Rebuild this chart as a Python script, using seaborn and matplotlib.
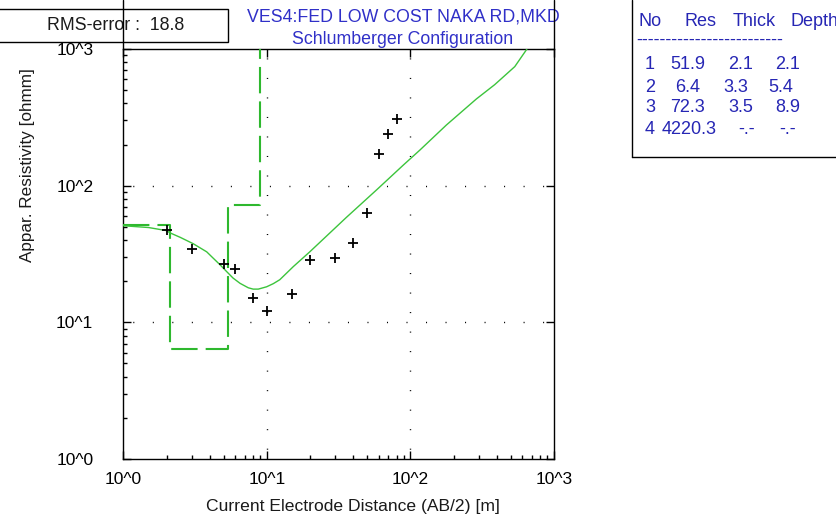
import numpy as np
import pandas as pd
import matplotlib
matplotlib.use("Agg")
import matplotlib.pyplot as plt
from matplotlib.lines import Line2D
from matplotlib.patches import Rectangle
from matplotlib.ticker import FixedLocator, FixedFormatter, NullFormatter
import seaborn as sns

# Field sounding: half current-electrode spacing (m) and apparent resistivity (ohm-m)
ab2_obs = [2, 3, 5, 6, 8, 10, 15, 20, 30, 40, 50, 60, 70, 80]
rho_obs = [47.7, 34.5, 26.7, 24.6, 15.1, 12.1, 16.1, 28.5, 29.8, 38.1, 62.9, 170, 239, 310]

# Calculated apparent-resistivity curve of the fitted model
ab2_calc = [1.0, 1.5, 2.0, 2.11, 2.5, 3.07, 3.81, 4.24, 4.73, 5.25, 5.81, 6.50, 7.42,
            8.03, 8.71, 9.96, 11.1, 12.3, 15.3, 19.9, 35.8, 58.4, 89.3, 116, 178,
            288, 386, 533, 648]
rho_calc = [50.9, 49.4, 46.9, 45.2, 41.8, 37.6, 32.8, 29.4, 26.3, 23.5, 21.1, 19.3, 17.9,
            17.5, 17.5, 18.2, 19.2, 20.5, 25.6, 32.8, 58.6, 93.6, 141.6, 181.6, 277.8,
            431, 548, 743, 1000]

# Layered model
layer_no = ["1", "2", "3", "4"]
layer_res = [51.9, 6.4, 72.3, 4220.3]
layer_thick = [2.1, 3.3, 3.5, None]
layer_depth = [2.1, 5.4, 8.9, None]

rms_error = 18.8
title_lines = ["VES4:FED LOW COST NAKA RD,MKD", "Schlumberger Configuration"]
decade_ticks = [1, 10, 100, 1000]
decade_labels = ["10^0", "10^1", "10^2", "10^3"]

W, H = 836, 522
BLUE = "#3030c8"
TABLE_BLUE = "#2626b4"
GREEN = "#3cc43c"
GREEN_DASH = "#2eb82e"

sns.set_theme(style="ticks")
plt.rcParams.update({
    "font.family": ["Liberation Sans", "DejaVu Sans"],
    "lines.scale_dashes": False,
    "axes.edgecolor": "black",
    "axes.linewidth": 1.0,
})

fig = plt.figure(figsize=(W / 100, H / 100), dpi=100)
fig.patch.set_facecolor("white")

ax_l, ax_r, ax_t, ax_b = 123.3, 554.0, 49.0, 459.0
ax = fig.add_axes([ax_l / W, 1 - ax_b / H, (ax_r - ax_l) / W, (ax_b - ax_t) / H])
ax.set_xscale("log")
ax.set_yscale("log")
ax.set_xlim(decade_ticks[0], decade_ticks[-1])
ax.set_ylim(decade_ticks[0], decade_ticks[-1])

# model step line (resistivity vs depth)
model_df = pd.DataFrame({
    "depth": [1.0] + layer_depth[:3],
    "res": layer_res,
})
sns.lineplot(data=model_df, x="depth", y="res", ax=ax, color=GREEN_DASH,
             linewidth=1.5, drawstyle="steps-post", estimator=None, sort=False,
             linestyle=(0, (19.0, 5.8)), zorder=3)

# calculated curve
calc_df = pd.DataFrame({"ab2": ab2_calc, "rho": rho_calc})
sns.lineplot(data=calc_df, x="ab2", y="rho", ax=ax, color=GREEN, linewidth=1.0,
             estimator=None, sort=False, zorder=4)

# observed points
obs_df = pd.DataFrame({"ab2": ab2_obs, "rho": rho_obs})
sns.scatterplot(data=obs_df, x="ab2", y="rho", ax=ax, marker="+", s=62,
                color="black", linewidth=1.3, zorder=5)

ax.set_xlabel("")
ax.set_ylabel("")

# ticks: labelled decades, minor ticks at 2..9 within each decade
minor_ticks = [k * 10.0 ** d for d in range(3) for k in range(2, 10)]
for axis in (ax.xaxis, ax.yaxis):
    axis.set_major_locator(FixedLocator(decade_ticks))
    axis.set_major_formatter(FixedFormatter(decade_labels))
    axis.set_minor_locator(FixedLocator(minor_ticks))
    axis.set_minor_formatter(NullFormatter())

ax.tick_params(which="both", direction="in", colors="black", width=1.0,
               labelsize=12.5, labelcolor="black")
ax.tick_params(which="major", length=6.0, top=True, right=True, bottom=True, left=True)
ax.tick_params(which="minor", length=3.0, top=False, right=False, bottom=True, left=True)
ax.tick_params(axis="y", which="major", pad=21.6)
ax.tick_params(axis="x", which="major", pad=9.0)

# sparse dotted grid at inner decades
for v in decade_ticks[1:-1]:
    ax.axvline(v, color="black", linewidth=1.0, linestyle=(7.0, (0.75, 13.3)), zorder=1)
    ax.axhline(v, color="black", linewidth=1.0, linestyle=(7.0, (0.75, 13.3)), zorder=1)
ax.grid(False)

for s in ax.spines.values():
    s.set_visible(True)
    s.set_linewidth(1.0)
    s.set_color("black")

# side frame lines continuing up to the title strip
for xp in (ax_l, ax_r):
    fig.add_artist(Line2D([xp / W, xp / W], [1 - ax_t / H, 1.0], transform=fig.transFigure,
                          color="black", linewidth=1.0, zorder=10))

# titles
fig.text(403 / W, 1 - 17.5 / H, title_lines[0], ha="center", va="center",
         color=BLUE, fontsize=12.8, zorder=5)
fig.text(403 / W, 1 - 39 / H, title_lines[1], ha="center", va="center",
         color=BLUE, fontsize=12.8, zorder=5)

# axis labels
fig.text(353 / W, 1 - 507 / H, "Current Electrode Distance (AB/2) [m]",
         ha="center", va="center", fontsize=12.6, color="#1a1a1a")
fig.text(28 / W, 1 - 165 / H, "Appar. Resistivity [ohmm]", rotation=90,
         ha="center", va="center", fontsize=12.3, color="#1a1a1a")

# RMS box
fig.add_artist(Rectangle((-3 / W, 1 - 42 / H), 231 / W, 33 / H, transform=fig.transFigure,
                         facecolor="white", edgecolor="black", linewidth=1.0, zorder=8))
fig.text(47 / W, 1 - 26 / H, f"RMS-error :  {rms_error}", ha="left", va="center",
         fontsize=12.8, color="#1a1a1a", zorder=9)

# layer table
fig.add_artist(Line2D([632 / W, 632 / W], [1 - 157 / H, 1.0], transform=fig.transFigure,
                      color="black", linewidth=1.0))
fig.add_artist(Line2D([632 / W, 1.0], [1 - 157 / H, 1 - 157 / H], transform=fig.transFigure,
                      color="black", linewidth=1.0))

def cell(xp, yp, txt):
    fig.text(xp / W, 1 - yp / H, txt, ha="left", va="center", fontsize=13,
             color=TABLE_BLUE)

header_y = 21.5
cell(638, header_y, "No")
cell(685, header_y, "Res")
cell(733, header_y, "Thick")
cell(790, header_y, "Depth")
cell(636, 40, "-" * 25)

row_y = [65, 87, 108, 130]
res_x = [670, 675, 670, 662]
thick_x = [728, 723, 728, 738]
depth_x = [775, 768, 775, 779]
for i in range(4):
    cell(645, row_y[i], layer_no[i])
    cell(res_x[i], row_y[i], f"{layer_res[i]:.1f}")
    cell(thick_x[i], row_y[i], "-.-" if layer_thick[i] is None else f"{layer_thick[i]:.1f}")
    cell(depth_x[i], row_y[i], "-.-" if layer_depth[i] is None else f"{layer_depth[i]:.1f}")

fig.savefig("out.png", dpi=100, facecolor="white")
